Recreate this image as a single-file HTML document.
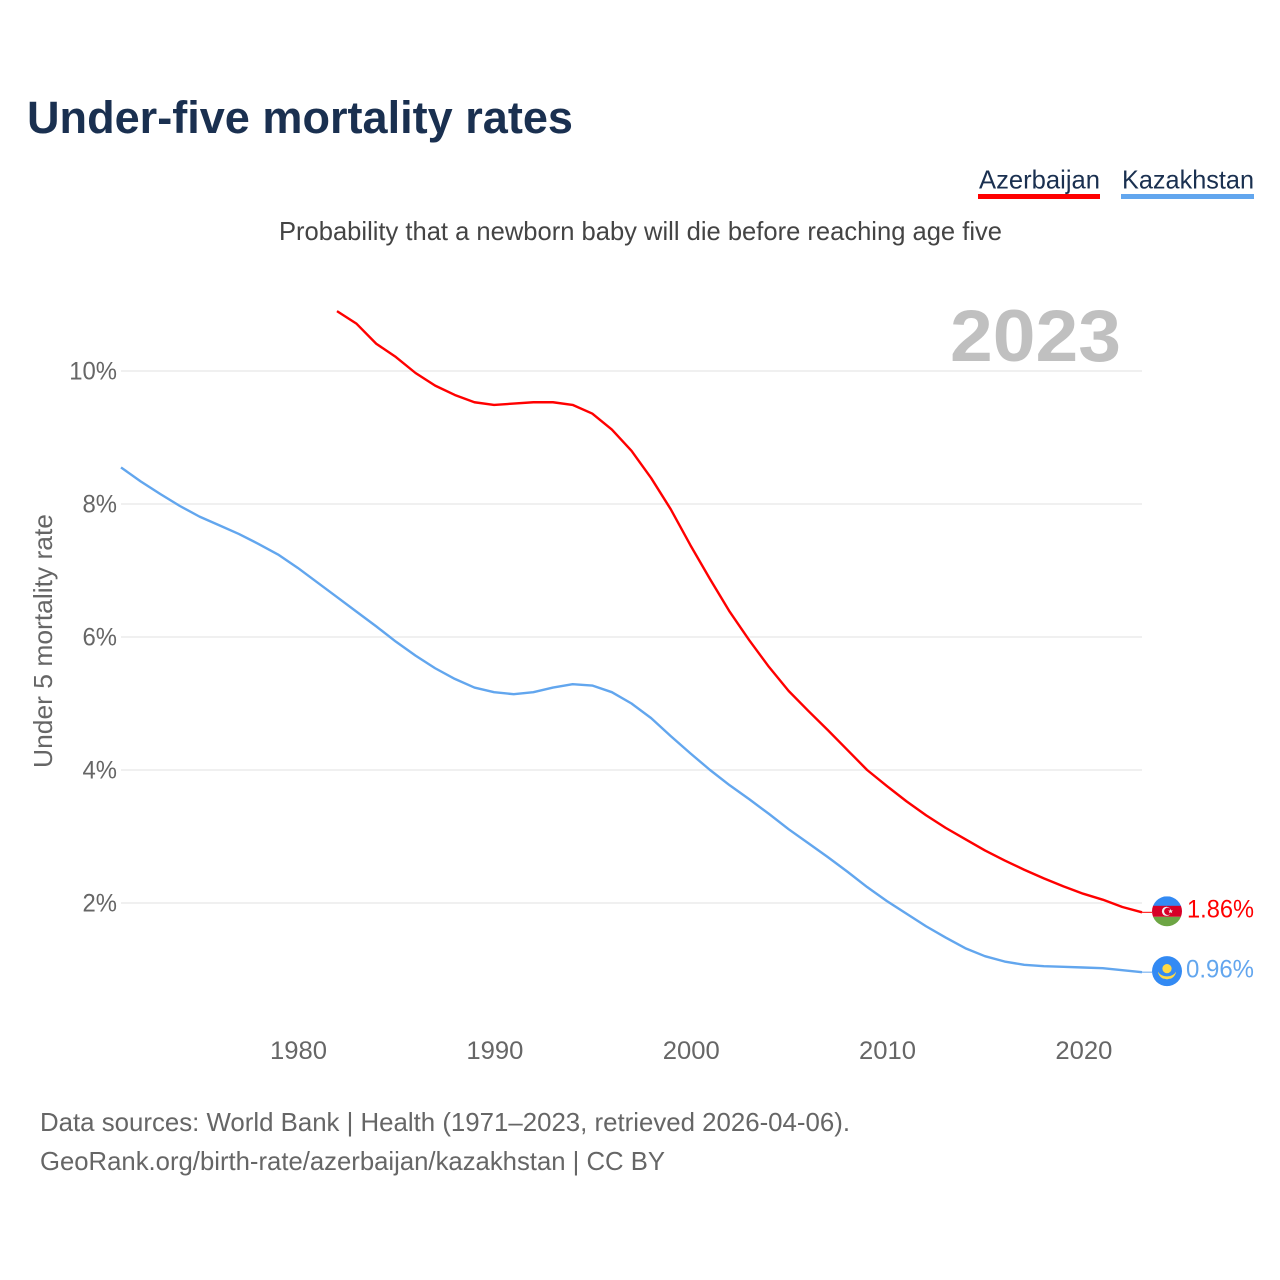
<!DOCTYPE html>
<html lang="en">
<head>
<meta charset="utf-8">
<title>Under-five mortality rates</title>
<style>
html,body{margin:0;padding:0;background:#fff;}
svg{display:block;font-family:"Liberation Sans",sans-serif;}
</style>
</head>
<body>
<svg id="chart" width="1280" height="1280" viewBox="0 0 1280 1280" xmlns="http://www.w3.org/2000/svg">
  <rect x="0" y="0" width="1280" height="1280" fill="#ffffff"/>
  <text x="27" y="133" font-size="45" font-weight="700" fill="#1a3050" textLength="546" lengthAdjust="spacingAndGlyphs">Under-five mortality rates</text>

  <g>
    <text x="979" y="188.5" font-size="26" fill="#1a3050" textLength="121" lengthAdjust="spacingAndGlyphs">Azerbaijan</text>
    <rect x="978" y="194" width="122" height="5" fill="#ff0000"/>
  </g>
  <g>
    <text x="1122" y="188.5" font-size="26" fill="#1a3050" textLength="132" lengthAdjust="spacingAndGlyphs">Kazakhstan</text>
    <rect x="1121" y="194" width="133" height="5" fill="#62a6ee"/>
  </g>

  <text x="279" y="240" font-size="26" fill="#444444" textLength="723" lengthAdjust="spacingAndGlyphs">Probability that a newborn baby will die before reaching age five</text>
  <text x="950" y="361" font-size="73" font-weight="700" fill="#c0c0c0" textLength="171" lengthAdjust="spacingAndGlyphs">2023</text>

  <g id="grid"></g>
  <g id="yticks"></g>
  <g id="xticks"></g>
  <text transform="translate(52,768) rotate(-90)" font-size="26" fill="#666666" textLength="254" lengthAdjust="spacingAndGlyphs">Under 5 mortality rate</text>

  <g id="series"></g>

  <g id="flag-az">
    <clipPath id="clip-az"><circle cx="0" cy="0" r="15"/></clipPath>
    <g clip-path="url(#clip-az)">
      <rect x="-15" y="-15" width="30" height="10" fill="#338af3"/>
      <rect x="-15" y="-5.5" width="30" height="11" fill="#d80027"/>
      <rect x="-15" y="5.5" width="30" height="10" fill="#6da544"/>
    </g>
    <circle cx="-0.5" cy="0" r="4.6" fill="#f0f0f0"/>
    <circle cx="0.8" cy="0" r="3.7" fill="#d80027"/>
    <polygon points="3.6,-2.4 4.3,-0.8 6,-0.8 4.7,0.3 5.2,2 3.6,1 2,2 2.5,0.3 1.2,-0.8 2.9,-0.8" fill="#f0f0f0"/>
  </g>
  <g id="flag-kz">
    <circle cx="0" cy="0" r="15" fill="#338af3"/>
    <circle cx="0" cy="-2.5" r="4.6" fill="#ffda44"/>
    <path d="M-9,0.5 C-7,4 -3.5,5.2 0,5.2 C3.5,5.2 7,4 9,0.5 C9,4 5,8 2.5,7.6 L0,8.2 L-2.5,7.6 C-5,8 -9,4 -9,0.5 Z" fill="#ffda44"/>
  </g>
  <text id="label-az" x="1187" font-size="25" fill="#ff0000" textLength="67" lengthAdjust="spacingAndGlyphs"></text>
  <text id="label-kz" x="1186" font-size="25" fill="#62a6ee" textLength="68" lengthAdjust="spacingAndGlyphs"></text>

  <text x="40" y="1131" font-size="26" fill="#666666" textLength="810" lengthAdjust="spacingAndGlyphs">Data sources: World Bank | Health (1971–2023, retrieved 2026-04-06).</text>
  <text x="40" y="1170" font-size="26" fill="#666666" textLength="625" lengthAdjust="spacingAndGlyphs">GeoRank.org/birth-rate/azerbaijan/kazakhstan | CC BY</text>
</svg>
<script>
var xTickYears = [1980, 1990, 2000, 2010, 2020];
var yTickValues = [2, 4, 6, 8, 10];
var yearsAzerbaijan = [1982,1983,1984,1985,1986,1987,1988,1989,1990,1991,1992,1993,1994,1995,1996,1997,1998,1999,2000,2001,2002,2003,2004,2005,2006,2007,2008,2009,2010,2011,2012,2013,2014,2015,2016,2017,2018,2019,2020,2021,2022,2023];
var valuesAzerbaijan = [10.90,10.71,10.41,10.21,9.97,9.78,9.64,9.53,9.49,9.51,9.53,9.53,9.49,9.36,9.12,8.80,8.39,7.92,7.38,6.87,6.38,5.95,5.55,5.19,4.89,4.60,4.30,4.00,3.76,3.53,3.32,3.13,2.96,2.79,2.64,2.50,2.37,2.25,2.14,2.05,1.94,1.86];
var yearsKazakhstan = [1971,1972,1973,1974,1975,1976,1977,1978,1979,1980,1981,1982,1983,1984,1985,1986,1987,1988,1989,1990,1991,1992,1993,1994,1995,1996,1997,1998,1999,2000,2001,2002,2003,2004,2005,2006,2007,2008,2009,2010,2011,2012,2013,2014,2015,2016,2017,2018,2019,2020,2021,2022,2023];
var valuesKazakhstan = [8.55,8.34,8.15,7.97,7.81,7.68,7.55,7.40,7.24,7.04,6.82,6.60,6.38,6.16,5.93,5.72,5.53,5.37,5.24,5.17,5.14,5.17,5.24,5.29,5.27,5.17,5.00,4.78,4.51,4.25,4.00,3.77,3.56,3.34,3.11,2.90,2.69,2.47,2.24,2.03,1.84,1.65,1.48,1.32,1.20,1.12,1.07,1.05,1.04,1.03,1.02,0.99,0.96];

var SVG_NS = 'http://www.w3.org/2000/svg';
function xScale(year) { return 121 + (year - 1971) * 19.635; }
function yScale(value) { return 1036 - value * 66.5; }
function makeEl(tag, parent) {
  var el = document.createElementNS(SVG_NS, tag);
  parent.appendChild(el);
  return el;
}
function linePath(years, values) {
  var d = '';
  for (var i = 0; i < values.length; i++) {
    d += (i ? 'L' : 'M') + xScale(years[i]).toFixed(2) + ',' + yScale(values[i]).toFixed(2);
  }
  return d;
}

var gridGroup = document.getElementById('grid');
var yTickGroup = document.getElementById('yticks');
yTickValues.forEach(function (v) {
  var line = makeEl('line', gridGroup);
  
  
  line.setAttribute('x1', xScale(1971));
  line.setAttribute('x2', xScale(2023));
  line.setAttribute('y1', yScale(v));
  line.setAttribute('y2', yScale(v));
  line.setAttribute('stroke', '#f0f0f0');
  line.setAttribute('stroke-width', '2');
  var label = makeEl('text', yTickGroup);
  
  
  label.setAttribute('x', 117);
  label.setAttribute('y', yScale(v) + 8.5);
  label.setAttribute('text-anchor', 'end');
  label.setAttribute('font-size', '25');
  label.setAttribute('fill', '#666666');
  label.textContent = v + '%';
  label.setAttribute('textLength', (label.getComputedTextLength() * 0.955).toFixed(1));
  label.setAttribute('lengthAdjust', 'spacingAndGlyphs');
});

var xTickGroup = document.getElementById('xticks');
xTickYears.forEach(function (yr) {
  var label = makeEl('text', xTickGroup);
  
  
  label.setAttribute('x', xScale(yr) + 0.8);
  label.setAttribute('y', 1059);
  label.setAttribute('text-anchor', 'middle');
  label.setAttribute('font-size', '25');
  label.setAttribute('fill', '#666666');
  label.textContent = yr;
  label.setAttribute('textLength', '57');
  label.setAttribute('lengthAdjust', 'spacingAndGlyphs');
});

var seriesGroup = document.getElementById('series');
var azLine = makeEl('path', seriesGroup);


azLine.setAttribute('d', linePath(yearsAzerbaijan, valuesAzerbaijan));
azLine.setAttribute('fill', 'none');
azLine.setAttribute('stroke', '#ff0000');
azLine.setAttribute('stroke-width', '2.4');
azLine.setAttribute('stroke-linejoin', 'round');
var kzLine = makeEl('path', seriesGroup);


kzLine.setAttribute('d', linePath(yearsKazakhstan, valuesKazakhstan));
kzLine.setAttribute('fill', 'none');
kzLine.setAttribute('stroke', '#62a6ee');
kzLine.setAttribute('stroke-width', '2.4');
kzLine.setAttribute('stroke-linejoin', 'round');

var azLast = valuesAzerbaijan[valuesAzerbaijan.length - 1];
var kzLast = valuesKazakhstan[valuesKazakhstan.length - 1];
var azEndY = yScale(azLast);
var kzEndY = yScale(kzLast);

var azLeader = makeEl('line', seriesGroup);


azLeader.setAttribute('x1', xScale(2023));
azLeader.setAttribute('x2', 1152);
azLeader.setAttribute('y1', azEndY);
azLeader.setAttribute('y2', azEndY);
azLeader.setAttribute('stroke', '#ff0000');
azLeader.setAttribute('stroke-width', '1');
var kzLeader = makeEl('line', seriesGroup);


kzLeader.setAttribute('x1', xScale(2023));
kzLeader.setAttribute('x2', 1152);
kzLeader.setAttribute('y1', kzEndY);
kzLeader.setAttribute('y2', kzEndY);
kzLeader.setAttribute('stroke', '#62a6ee');
kzLeader.setAttribute('stroke-width', '1');

document.getElementById('flag-az').setAttribute('transform', 'translate(1167,' + (azEndY - 1) + ')');
document.getElementById('flag-kz').setAttribute('transform', 'translate(1167,' + (kzEndY - 1) + ')');
var azLabel = document.getElementById('label-az');
azLabel.setAttribute('y', azEndY + 5.2);
azLabel.textContent = azLast.toFixed(2) + '%';
var kzLabel = document.getElementById('label-kz');
kzLabel.setAttribute('y', kzEndY + 5.3);
kzLabel.textContent = kzLast.toFixed(2) + '%';
</script>
</body>
</html>
